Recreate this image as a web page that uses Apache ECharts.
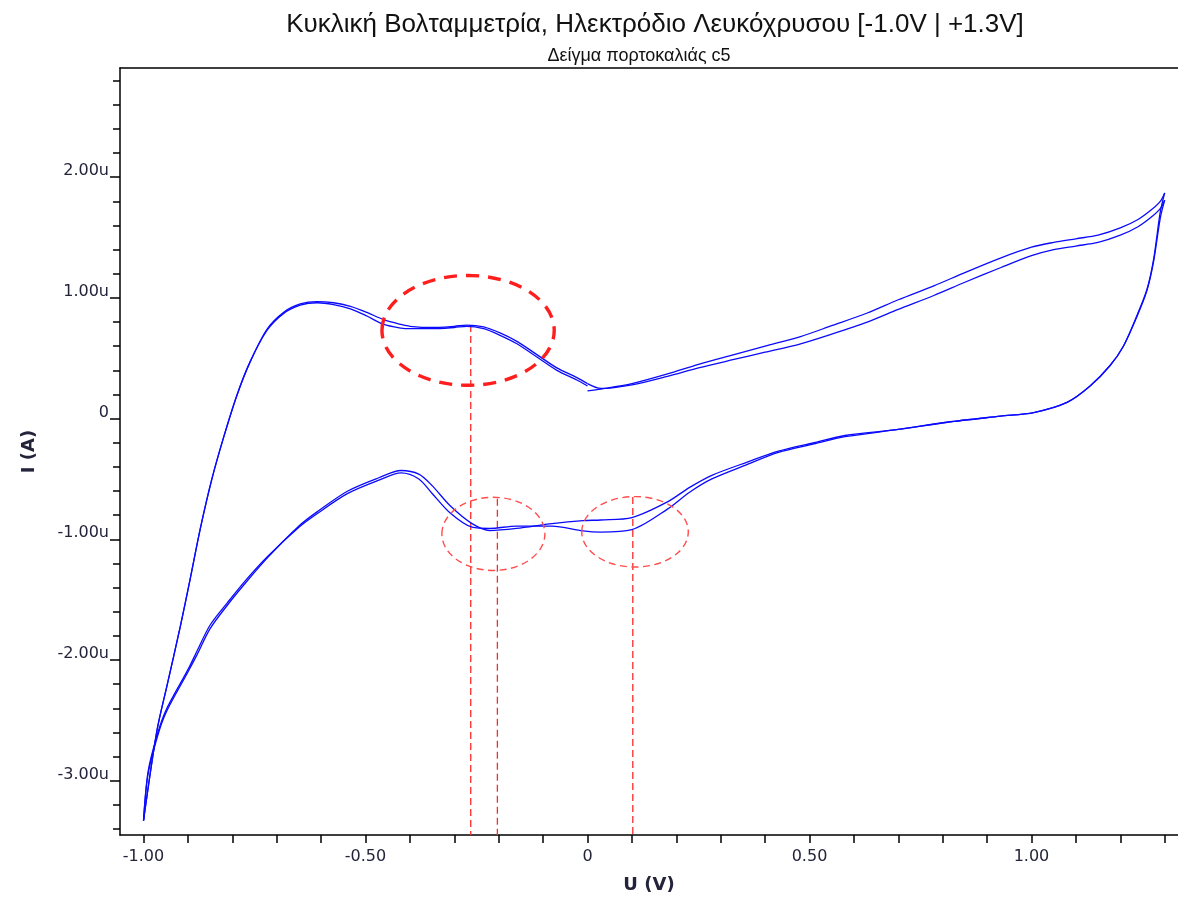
<!DOCTYPE html>
<html>
<head>
<meta charset="utf-8">
<script src="https://cdn.jsdelivr.net/npm/echarts@6/dist/echarts.min.js"></script>
<style>
  html, body { margin: 0; padding: 0; background: #ffffff; }
  #chart { width: 1178px; height: 899px; }
</style>
</head>
<body>
<div id="chart"></div>
<script>
// Cyclic voltammogram, two consecutive cycles (current in µA, potential in V)
// Sweep order: 0 V -> +1.3 V, +1.3 V -> -1.0 V, -1.0 V -> 0 V

const upSweepV = [0.00, 0.03, 0.10, 0.18, 0.25, 0.33, 0.40, 0.48, 0.55, 0.63, 0.70, 0.78,
  0.85, 0.93, 1.00, 1.05, 1.10, 1.15, 1.20, 1.24, 1.27, 1.29, 1.30];
const downSweepV = [1.29, 1.275, 1.26, 1.237, 1.207, 1.177, 1.132, 1.08, 1.005, 0.93, 0.81,
  0.70, 0.58, 0.51, 0.43, 0.36, 0.28, 0.23, 0.18, 0.10, 0.03, -0.01, -0.08, -0.16, -0.22,
  -0.26, -0.31, -0.35, -0.38, -0.42, -0.47, -0.54, -0.61, -0.65, -0.72, -0.77, -0.81, -0.85,
  -0.88, -0.90, -0.95, -0.97, -0.99, -1.00];
const returnSweepV = [-0.97, -0.947, -0.917, -0.895, -0.872, -0.846, -0.82, -0.79, -0.76,
  -0.722, -0.685, -0.647, -0.609, -0.572, -0.534, -0.497, -0.459, -0.42, -0.40, -0.35, -0.30,
  -0.272, -0.234, -0.197, -0.159, -0.114, -0.069, -0.024, 0.00];

const cycle1Up = [0.23, 0.245, 0.29, 0.37, 0.45, 0.53, 0.60, 0.68, 0.77, 0.875, 0.985, 1.10,
  1.21, 1.33, 1.42, 1.46, 1.49, 1.52, 1.58, 1.65, 1.73, 1.80, 1.87];
const cycle1Down = [1.71, 1.32, 1.07, 0.85, 0.60, 0.44, 0.27, 0.134, 0.05, 0.02, -0.03,
  -0.09, -0.14, -0.20, -0.27, -0.36, -0.47, -0.57, -0.69, -0.82, -0.84, -0.845, -0.87, -0.91,
  -0.927, -0.87, -0.72, -0.555, -0.46, -0.43, -0.49, -0.60, -0.775, -0.89, -1.15, -1.36,
  -1.54, -1.74, -1.96, -2.10, -2.44, -2.65, -2.95, -3.33];
const cycle1Return = [-2.59, -2.21, -1.72, -1.33, -0.91, -0.50, -0.16, 0.19, 0.47, 0.74,
  0.88, 0.95, 0.97, 0.96, 0.93, 0.88, 0.82, 0.78, 0.765, 0.755, 0.765, 0.775, 0.76, 0.71,
  0.64, 0.53, 0.42, 0.34, 0.29];

const cycle2Up = [0.29, 0.25, 0.28, 0.35, 0.42, 0.49, 0.55, 0.62, 0.70, 0.80, 0.905, 1.02,
  1.13, 1.25, 1.35, 1.40, 1.43, 1.46, 1.52, 1.59, 1.67, 1.74, 1.81];
const cycle2Down = [1.66, 1.30, 1.06, 0.84, 0.60, 0.44, 0.27, 0.134, 0.05, 0.02, -0.03,
  -0.09, -0.15, -0.21, -0.28, -0.38, -0.50, -0.61, -0.75, -0.92, -0.94, -0.93, -0.89, -0.89,
  -0.91, -0.90, -0.78, -0.62, -0.50, -0.45, -0.51, -0.62, -0.79, -0.90, -1.14, -1.34, -1.52,
  -1.71, -1.93, -2.08, -2.42, -2.63, -2.93, -3.33];
const cycle2Return = [-2.59, -2.21, -1.72, -1.33, -0.91, -0.50, -0.16, 0.19, 0.47, 0.73,
  0.87, 0.94, 0.96, 0.945, 0.91, 0.85, 0.78, 0.75, 0.745, 0.745, 0.755, 0.765, 0.745, 0.69,
  0.62, 0.51, 0.40, 0.32, 0.27];

// Peak potentials marked with vertical guides, and the current where each guide starts
const peakMarkV = [-0.263, -0.203, 0.102];
const peakMarkTopI = [0.775, -0.665, -0.65];

// Highlighted peak regions (centre and half-extent in axis units)
const regionCenterV = [-0.269, -0.212, 0.107];
const regionCenterI = [0.731, -0.955, -0.938];
const regionHalfV = [0.194, 0.116, 0.120];
const regionHalfI = [0.455, 0.303, 0.292];

// Axis ranges and ticks
const xMin = -1.053, xMax = 1.33;
const yMin = -3.45, yMax = 2.905;
const xTickValues = [-1.0, -0.9, -0.8, -0.7, -0.6, -0.5, -0.4, -0.3, -0.2, -0.1, 0, 0.1, 0.2,
  0.3, 0.4, 0.5, 0.6, 0.7, 0.8, 0.9, 1.0, 1.1, 1.2, 1.3];
const xLabelValues = [-1.0, -0.5, 0, 0.5, 1.0];
const yTickValues = [-3.4, -3.2, -3.0, -2.8, -2.6, -2.4, -2.2, -2.0, -1.8, -1.6, -1.4, -1.2,
  -1.0, -0.8, -0.6, -0.4, -0.2, 0, 0.2, 0.4, 0.6, 0.8, 1.0, 1.2, 1.4, 1.6, 1.8, 2.0, 2.2, 2.4,
  2.6, 2.8];
const yLabelValues = [-3, -2, -1, 0, 1, 2];

const titleText = 'Κυκλική Βολταμμετρία, Ηλεκτρόδιο Λευκόχρυσου [-1.0V | +1.3V]';
const subtitleText = 'Δείγμα πορτοκαλιάς c5';

function zip(v, i) { return v.map((x, k) => [x, i[k]]); }

// Each sweep is its own smoothed segment, so the switching potentials stay sharp
function sweeps(up, down, ret) {
  const a = zip(upSweepV, up);
  const b = [a[a.length - 1]].concat(zip(downSweepV, down));
  const c = [b[b.length - 1]].concat(zip(returnSweepV, ret));
  return [a, b, c];
}
const cycleSegments = [
  sweeps(cycle1Up, cycle1Down, cycle1Return),
  sweeps(cycle2Up, cycle2Down, cycle2Return)
];

const regionData = regionCenterV.map((v, k) => [v, regionCenterI[k], regionHalfV[k], regionHalfI[k]]);
const guideData = peakMarkV.map((v, k) => [v, peakMarkTopI[k]]);

const labelFont = 'DejaVu Sans';
const ink = '#23233a';
const traceColor = '#0a0aff';

const traceSeries = [];
cycleSegments.forEach((segs, ci) => {
  segs.forEach(seg => {
    traceSeries.push({
      name: 'Κύκλος ' + (ci + 1), type: 'line', xAxisIndex: 0, yAxisIndex: 0,
      data: seg, showSymbol: false, smooth: 0.3, clip: true,
      lineStyle: { color: traceColor, width: 1.3 }
    });
  });
});

const chart = echarts.init(document.getElementById('chart'), null, { renderer: 'canvas' });

chart.setOption({
  animation: false,
  backgroundColor: '#ffffff',
  title: [
    {
      text: titleText, left: 650, top: 7, textAlign: 'center',
      textStyle: { fontFamily: 'Liberation Sans', fontSize: 26, fontWeight: 'normal', color: '#111' }
    },
    {
      text: subtitleText, left: 634, top: 42, textAlign: 'center',
      textStyle: { fontFamily: 'Liberation Sans', fontSize: 18, fontWeight: 'normal', color: '#111' }
    }
  ],
  grid: { left: 120, right: 0, top: 68, bottom: 62, containLabel: false },
  xAxis: [
    {
      type: 'value', min: xMin, max: xMax, position: 'bottom',
      name: 'U (V)', nameLocation: 'middle', nameGap: 41,
      nameTextStyle: { fontFamily: labelFont, fontSize: 18, fontWeight: 'bold', color: ink },
      axisLine: { show: true, onZero: false, lineStyle: { color: '#000', width: 1.5 } },
      axisTick: { show: true, inside: false, length: 8, customValues: xTickValues,
        lineStyle: { color: '#000', width: 1.5 } },
      axisLabel: { show: true, margin: 14, customValues: xLabelValues,
        fontFamily: labelFont, fontSize: 16, color: ink,
        formatter: v => (Math.abs(v) < 1e-9 ? '0' : v.toFixed(2)) },
      splitLine: { show: false }
    },
    {
      type: 'value', min: xMin, max: xMax, position: 'top',
      axisLine: { show: true, onZero: false, lineStyle: { color: '#000', width: 1.5 } },
      axisTick: { show: false }, axisLabel: { show: false }, splitLine: { show: false }
    }
  ],
  yAxis: [
    {
      type: 'value', min: yMin, max: yMax, position: 'left',
      name: 'I (A)', nameLocation: 'middle', nameGap: 82, nameRotate: 90,
      nameTextStyle: { fontFamily: labelFont, fontSize: 18, fontWeight: 'bold', color: ink },
      axisLine: { show: true, onZero: false, lineStyle: { color: '#000', width: 1.5 } },
      axisTick: { show: true, inside: false, length: 7, customValues: yTickValues,
        lineStyle: { color: '#000', width: 1.5 } },
      axisLabel: { show: true, margin: 11, customValues: yLabelValues,
        fontFamily: labelFont, fontSize: 16, color: ink,
        verticalAlign: 'bottom', lineHeight: 12,
        formatter: v => (Math.abs(v) < 1e-9 ? '0' : v.toFixed(2) + 'u') },
      splitLine: { show: false }
    },
    {
      type: 'value', min: yMin, max: yMax, position: 'left',
      axisLine: { show: false, onZero: false },
      axisTick: { show: true, inside: false, length: 10, customValues: yLabelValues,
        lineStyle: { color: '#000', width: 1.5 } },
      axisLabel: { show: false }, splitLine: { show: false }
    }
  ],
  series: traceSeries.concat([
    {
      name: 'guides', type: 'custom', xAxisIndex: 0, yAxisIndex: 0,
      data: guideData, silent: true, z: 3,
      renderItem: (params, api) => {
        const p1 = api.coord([api.value(0), api.value(1)]);
        const p2 = api.coord([api.value(0), yMin]);
        return {
          type: 'line',
          shape: { x1: p1[0], y1: p1[1], x2: p2[0], y2: p2[1] },
          style: { stroke: '#ff2a2a', lineWidth: 1.3, lineDash: [7, 4], fill: null }
        };
      }
    },
    {
      name: 'regions', type: 'custom', xAxisIndex: 0, yAxisIndex: 0,
      data: regionData, silent: true, z: 4,
      renderItem: (params, api) => {
        const c = api.coord([api.value(0), api.value(1)]);
        const s = api.size([api.value(2), api.value(3)]);
        const major = params.dataIndex === 0;
        return {
          type: 'ellipse',
          shape: { cx: c[0], cy: c[1], rx: s[0], ry: s[1] },
          style: major
            ? { stroke: '#ff1e1e', lineWidth: 3.4, lineDash: [13, 9], fill: null }
            : { stroke: '#ff4d4d', lineWidth: 1.4, lineDash: [7, 4.5], fill: null }
        };
      }
    }
  ])
});
</script>
</body>
</html>
